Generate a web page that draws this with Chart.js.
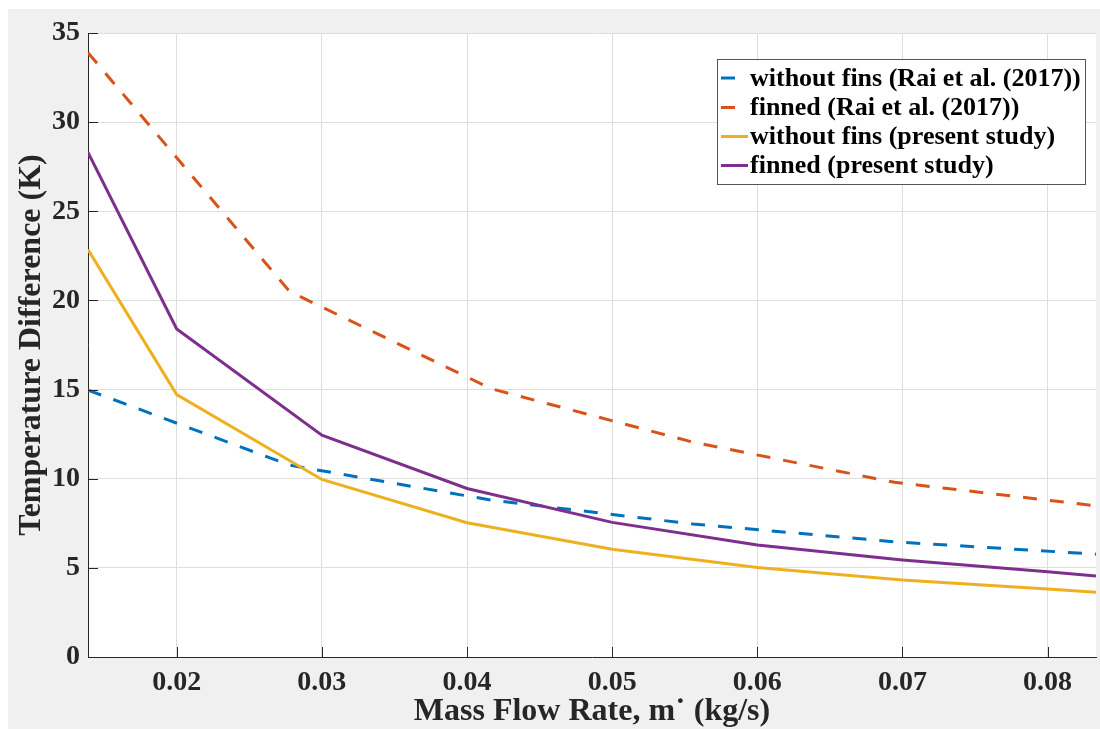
<!DOCTYPE html>
<html>
<head>
<meta charset="utf-8">
<script src="https://cdn.jsdelivr.net/npm/chart.js@4.4.1/dist/chart.umd.min.js"></script>
<style>
html,body{margin:0;padding:0;background:#fff;}
#wrap{position:absolute;left:0;top:0;width:1100px;height:729px;}
</style>
</head>
<body>
<div id="wrap"><canvas id="c" width="1100" height="729"></canvas></div>
<script>
// ---- data ----
const xRai = [0.013889, 0.027778, 0.041667, 0.055556, 0.069444, 0.083333];
const withoutFinsRai = [14.97, 10.76, 8.80, 7.46, 6.46, 5.77];
const finnedRai = [33.9, 20.5, 15.05, 12.05, 9.8, 8.48];

const xPresent = [0.013889, 0.02, 0.03, 0.04, 0.05, 0.06, 0.07, 0.08, 0.083333];
const withoutFinsPresent = [22.85, 14.72, 9.96, 7.53, 6.04, 5.02, 4.32, 3.81, 3.63];
const finnedPresent = [28.3, 18.4, 12.44, 9.45, 7.55, 6.28, 5.44, 4.78, 4.54];

const xTicks = [0.02, 0.03, 0.04, 0.05, 0.06, 0.07, 0.08];
const yTicks = [0, 5, 10, 15, 20, 25, 30, 35];

const seriesNames = [
  'without fins (Rai et al. (2017))',
  'finned (Rai et al. (2017))',
  'without fins (present study)',
  'finned (present study)'
];

const toXY = (xs, ys) => xs.map((x, i) => ({x: x, y: ys[i]}));

const FONT = '"Liberation Serif", "Times New Roman", serif';
const AX = '#262626';
const DASH = [14, 13];

const bgPlugin = {
  id: 'bg',
  beforeDraw(chart) {
    const ctx = chart.ctx, a = chart.chartArea;
    ctx.save();
    ctx.fillStyle = '#ffffff';
    ctx.fillRect(0, 0, chart.width, chart.height);
    ctx.fillStyle = '#f0f0f0';
    ctx.fillRect(8, 9, chart.width - 8, chart.height - 9);
    ctx.fillStyle = '#ffffff';
    ctx.fillRect(a.left, a.top, a.right - a.left, a.bottom - a.top);
    ctx.restore();
  }
};

const tickPlugin = {
  id: 'innerTicks',
  afterDatasetsDraw(chart) {
    const ctx = chart.ctx, a = chart.chartArea;
    const xs = chart.scales.x, ys = chart.scales.y;
    ctx.save();
    ctx.strokeStyle = AX;
    ctx.lineWidth = 1;
    ctx.beginPath();
    xTicks.forEach(v => {
      const px = Math.round(xs.getPixelForValue(v)) + 0.5;
      ctx.moveTo(px, a.bottom); ctx.lineTo(px, a.bottom - 10);
    });
    yTicks.forEach(v => {
      const py = Math.round(ys.getPixelForValue(v)) + 0.5;
      ctx.moveTo(a.left, py); ctx.lineTo(a.left + 10, py);
    });
    ctx.stroke();
    ctx.restore();
  }
};

const legendPlugin = {
  id: 'boxLegend',
  afterDraw(chart) {
    const ctx = chart.ctx;
    const x0 = 717.5, y0 = 59.5, w = 368, h = 125;
    ctx.save();
    ctx.fillStyle = '#ffffff';
    ctx.fillRect(x0, y0, w, h);
    ctx.strokeStyle = '#555555';
    ctx.lineWidth = 1;
    ctx.strokeRect(x0, y0, w, h);
    const rows = [78, 107.5, 136.5, 165.5];
    ctx.font = 'bold 26px ' + FONT;
    ctx.textBaseline = 'middle';
    chart.data.datasets.forEach((ds, i) => {
      const y = rows[i];
      ctx.strokeStyle = ds.borderColor;
      ctx.lineWidth = 3;
      ctx.setLineDash([]);
      ctx.beginPath();
      if (ds.borderDash && ds.borderDash.length) {
        ctx.moveTo(721, y); ctx.lineTo(735, y);
      } else {
        ctx.moveTo(721, y); ctx.lineTo(748, y);
      }
      ctx.stroke();
      ctx.fillStyle = '#000000';
      ctx.fillText(seriesNames[i], 750, y + 1);
    });
    ctx.restore();
  }
};

new Chart(document.getElementById('c'), {
  type: 'line',
  data: {
    datasets: [
      {label: seriesNames[0], data: toXY(xRai, withoutFinsRai), borderColor: '#0072BD', borderDash: DASH, order: 3},
      {label: seriesNames[1], data: toXY(xRai, finnedRai), borderColor: '#D95319', borderDash: DASH, order: 2},
      {label: seriesNames[2], data: toXY(xPresent, withoutFinsPresent), borderColor: '#EDB120', order: 1},
      {label: seriesNames[3], data: toXY(xPresent, finnedPresent), borderColor: '#7E2F8E', order: 0}
    ]
  },
  options: {
    responsive: false,
    animation: false,
    devicePixelRatio: 1,
    layout: {padding: {left: 8, top: 33, right: 4, bottom: 0}},
    elements: {
      line: {borderWidth: 3, tension: 0, fill: false},
      point: {radius: 0, hoverRadius: 0}
    },
    plugins: {legend: {display: false}, tooltip: {enabled: false}},
    scales: {
      x: {
        type: 'linear',
        min: 0.013889, max: 0.083333,
        afterBuildTicks: s => { s.ticks = xTicks.map(v => ({value: v})); },
        afterFit: s => { s.height = 72; },
        grid: {color: '#dedede', lineWidth: 1, drawTicks: false},
        border: {display: true, color: AX, width: 1},
        ticks: {
          padding: 9, color: AX, maxRotation: 0, autoSkip: false,
          font: {family: FONT, size: 28, weight: 'bold'},
          callback: v => v.toFixed(2)
        },
        title: {
          display: true, text: 'Mass Flow Rate, m\u02D9 (kg/s)', color: AX,
          font: {family: FONT, size: 32, weight: 'bold', lineHeight: 1.1},
          padding: {top: 0, bottom: 0}
        }
      },
      y: {
        type: 'linear',
        min: 0, max: 35,
        afterBuildTicks: s => { s.ticks = yTicks.map(v => ({value: v})); },
        afterFit: s => { s.width = 80; },
        grid: {color: '#dedede', lineWidth: 1, drawTicks: false},
        border: {display: true, color: AX, width: 1},
        ticks: {
          padding: 8, color: AX,
          font: {family: FONT, size: 28, weight: 'bold'}
        },
        title: {
          display: true, text: 'Temperature Difference (K)', color: AX,
          font: {family: FONT, size: 32, weight: 'bold', lineHeight: 1.1},
          padding: {top: 6, bottom: 0}
        }
      }
    }
  },
  plugins: [bgPlugin, tickPlugin, legendPlugin]
});
</script>
</body>
</html>
